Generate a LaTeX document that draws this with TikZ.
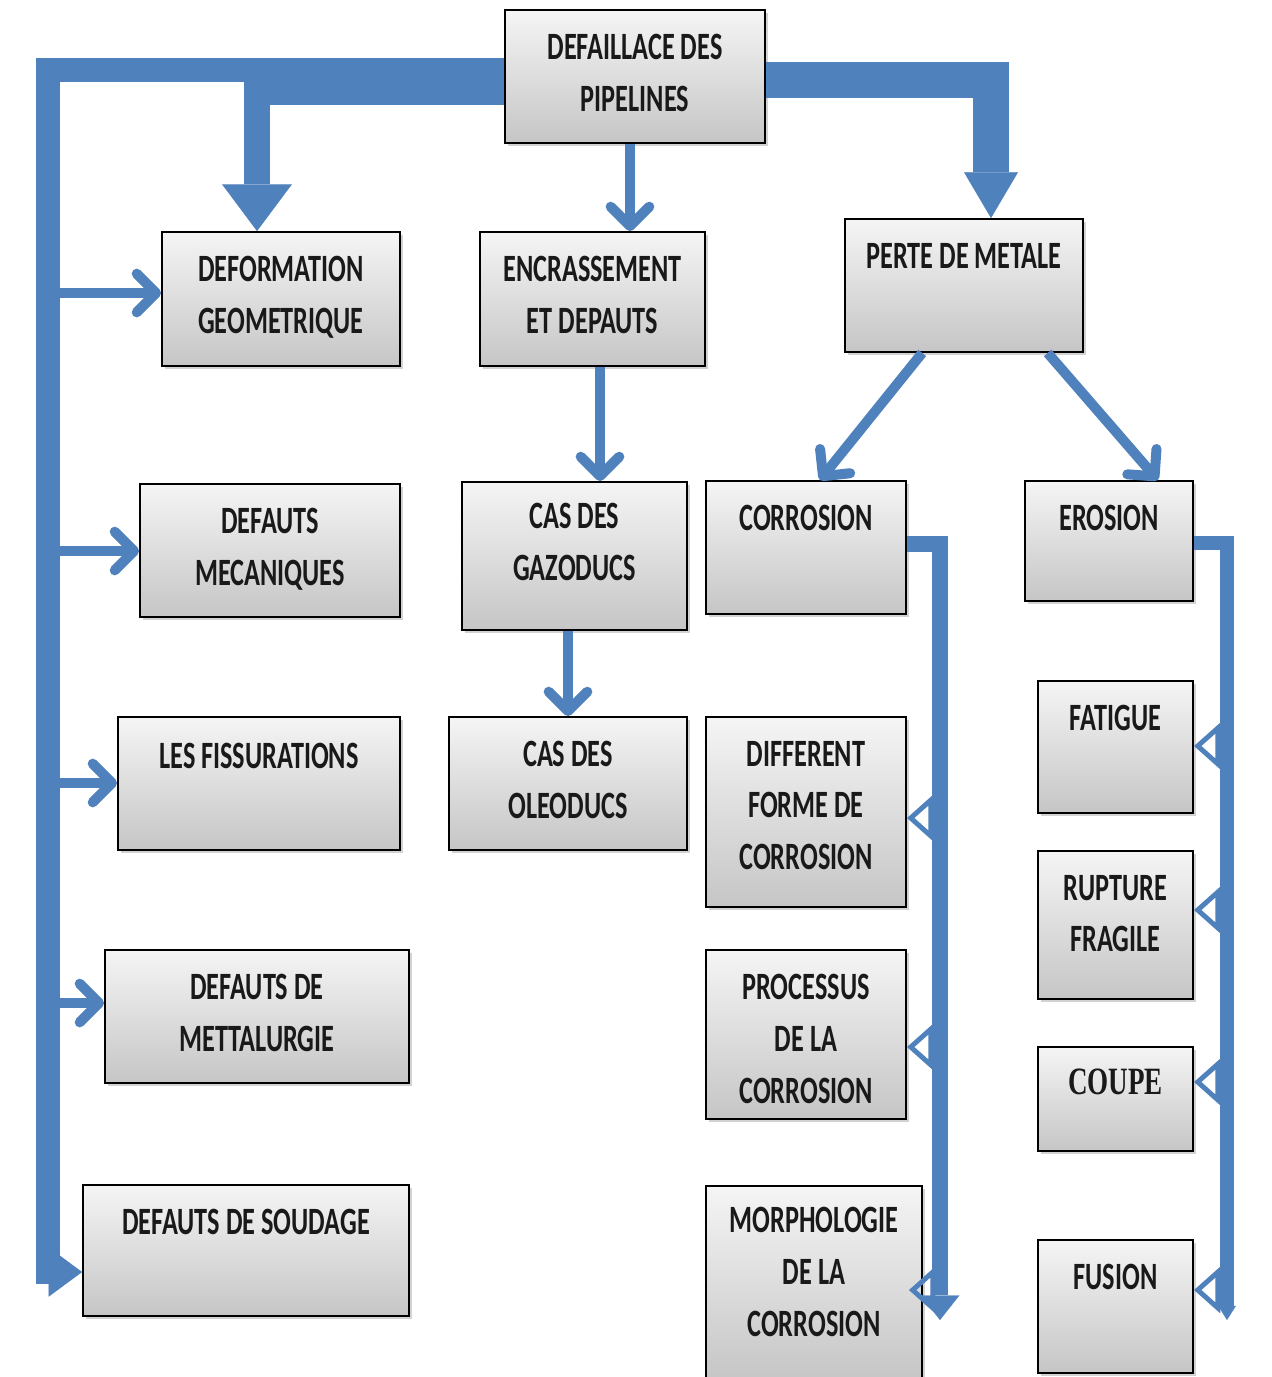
\documentclass[tikz,border=0pt]{standalone}
\usepackage{fontspec}
\newfontfamily\boitefont[FakeStretch=0.68]{Carlito}
\newfontfamily\boiteserif[FakeStretch=0.70]{Liberation Serif}
\usetikzlibrary{arrows.meta,shadows}
\definecolor{bleu}{RGB}{79,129,189}
\tikzset{
  boite/.style={draw=black, line width=1.1pt, top color=gray!8, bottom color=gray!45,
    drop shadow={shadow xshift=1.5pt, shadow yshift=-1.5pt, opacity=.35}},
  titre/.style={font=\boitefont\bfseries\fontsize{22}{29.5}\selectfont, text=black!90,
    align=center, anchor=north, inner sep=0pt, yshift=-14pt},
  fleche/.style={draw=bleu, line width=5.7pt, -{Straight Barb[length=11pt, width=22pt, round]}},
  grosse/.style={draw=bleu, line width=#1},
  ouverte/.style={draw=bleu, line width=2.8pt, -{Triangle[open, length=15pt, width=26pt]}},
}
\begin{document}
\begin{tikzpicture}[x=0.02cm, y=-0.02cm]
  \path[use as bounding box, fill=white] (0,0) rectangle (1272,1377);

  % Noeuds
  \node[boite, minimum width=5.2cm, minimum height=2.66cm, label={[titre]north:DEFAILLACE DES\\PIPELINES}] (pipe) at (635,76.5) {};
  \node[boite, minimum width=4.76cm, minimum height=2.68cm, label={[titre]north:DEFORMATION\\GEOMETRIQUE}] (deform) at (281,299) {};
  \node[boite, minimum width=4.5cm, minimum height=2.68cm, label={[titre]north:ENCRASSEMENT\\ET DEPAUTS}] (encr) at (592.5,299) {};
  \node[boite, minimum width=4.76cm, minimum height=2.66cm, label={[titre]north:PERTE DE METALE}] (perte) at (964,285.5) {};
  \node[boite, minimum width=5.2cm, minimum height=2.66cm, label={[titre]north:DEFAUTS\\MECANIQUES}] (mecan) at (270,550.5) {};
  \node[boite, minimum width=4.5cm, minimum height=2.96cm, label={[titre, yshift=1.7pt]north:CAS DES\\GAZODUCS}] (gazo) at (574.5,556) {};
  \node[boite, minimum width=4cm, minimum height=2.66cm, label={[titre]north:CORROSION}] (corro) at (806,547.5) {};
  \node[boite, minimum width=3.36cm, minimum height=2.4cm, label={[titre]north:EROSION}] (erosion) at (1109,541) {};
  \node[boite, minimum width=5.64cm, minimum height=2.66cm, label={[titre, yshift=-1pt]north:LES FISSURATIONS}] (fiss) at (259,783.5) {};
  \node[boite, minimum width=4.76cm, minimum height=2.66cm, label={[titre]north:CAS DES\\OLEODUCS}] (oleo) at (568,783.5) {};
  \node[boite, minimum width=4cm, minimum height=3.8cm, label={[titre]north:DIFFERENT\\FORME DE\\CORROSION}] (diff) at (806,812) {};
  \node[boite, minimum width=3.1cm, minimum height=2.64cm, label={[titre]north:FATIGUE}] (fatigue) at (1115.5,747) {};
  \node[boite, minimum width=6.08cm, minimum height=2.66cm, label={[titre]north:DEFAUTS DE\\METTALURGIE}] (metal) at (257,1016.5) {};
  \node[boite, minimum width=4cm, minimum height=3.38cm, label={[titre]north:PROCESSUS\\DE LA\\CORROSION}] (proc) at (806,1034.5) {};
  \node[boite, minimum width=3.1cm, minimum height=2.96cm, label={[titre]north:RUPTURE\\FRAGILE}] (rupt) at (1115.5,925) {};
  \node[boite, minimum width=3.1cm, minimum height=2.08cm, label={[titre, font=\boiteserif\bfseries\fontsize{22}{29.5}\selectfont, yshift=1pt]north:COUPE}] (coupe) at (1115.5,1099) {};
  \node[boite, minimum width=6.52cm, minimum height=2.62cm, label={[titre]north:DEFAUTS DE SOUDAGE}] (soud) at (246,1250.5) {};
  \node[boite, minimum width=4.32cm, minimum height=3.88cm, label={[titre, yshift=1.7pt]north:MORPHOLOGIE\\DE LA\\CORROSION}] (morph) at (814,1283) {};
  \node[boite, minimum width=3.1cm, minimum height=2.66cm, label={[titre]north:FUSION}] (fusion) at (1115.5,1306.5) {};

  % Fleches principales
  \coordinate (busg) at (48,70);
  \coordinate (finc) at (940,1320);
  \coordinate (fine) at (1227,1320);
  \draw[grosse=13.6pt, -{Triangle[length=19pt, width=28pt, line width=0.1pt]}]
    (pipe.west |- 0,70) -| (busg |- 0,1272) -- (soud.west |- 0,1272);
  \draw[grosse=14.7pt, -{Triangle[length=26.6pt, width=39.7pt, line width=0.1pt]}]
    (pipe.west |- 0,92) -| (257,0 |- deform.north);
  \draw[grosse=20.4pt, -{Triangle[length=26pt, width=30.6pt, line width=0.1pt]}]
    (pipe.east |- 0,80) -| (991,0 |- perte.north);

  % Branches de gauche
  \draw[fleche] (busg |- 0,293) -- (deform.west |- 0,293);
  \draw[fleche] (busg |- 0,551) -- (mecan.west |- 0,551);
  \draw[fleche] (busg |- 0,783) -- (fiss.west |- 0,783);
  \draw[fleche] (busg |- 0,1003) -- (metal.west |- 0,1003);

  % Colonne du milieu
  \draw[fleche] (630,0 |- pipe.south) -- (630,0 |- encr.north);
  \draw[fleche] (600,0 |- encr.south) -- (600,0 |- gazo.north);
  \draw[fleche] (oleo.north |- gazo.south) -- (oleo.north);
  \draw[fleche] ([xshift=-23.8pt]perte.south) -- ([xshift=7.9pt]corro.north);
  \draw[fleche] ([xshift=47.6pt]perte.south) -- ([xshift=27.8pt]erosion.north);

  % Corrosion
  \draw[grosse=9.1pt, -{Triangle[length=14pt, width=22pt, line width=0.1pt]}]
    (corro.east |- 0,544) -| (finc);
  \draw[ouverte] (finc |- 0,818) -- (diff.east |- 0,818);
  \draw[ouverte] (finc |- 0,1047) -- (proc.east |- 0,1047);
  \draw[ouverte] (finc |- 0,1290) -- ([xshift=-8pt, yshift=-4pt]morph.east);

  % Erosion
  \draw[grosse=8.5pt, -{Triangle[length=8pt, width=10pt, line width=0.1pt]}]
    (erosion.east |- 0,543) -| (fine);
  \draw[ouverte] (fine |- 0,746) -- (fatigue.east |- 0,746);
  \draw[ouverte] (fine |- 0,910) -- (rupt.east |- 0,910);
  \draw[ouverte] (fine |- 0,1082) -- (coupe.east |- 0,1082);
  \draw[ouverte] (fine |- 0,1290) -- (fusion.east |- 0,1290);
\end{tikzpicture}
\end{document}
